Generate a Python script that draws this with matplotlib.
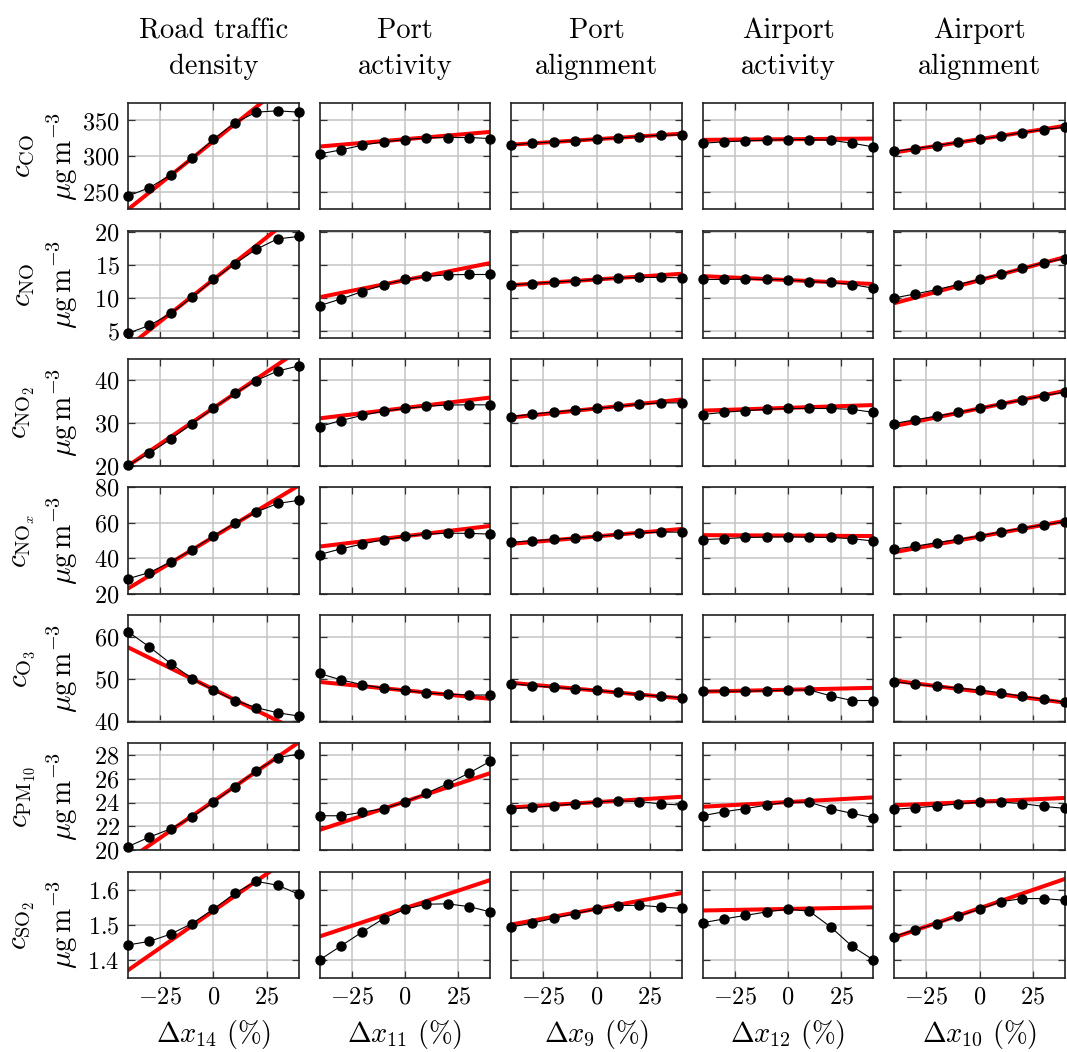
import numpy as np
import matplotlib
matplotlib.use("Agg")
import matplotlib.pyplot as plt

plt.rcParams['font.family'] = 'serif'
plt.rcParams['font.serif'] = ['cmr10', 'DejaVu Serif']
plt.rcParams['mathtext.fontset'] = 'cm'
plt.rcParams['axes.formatter.use_mathtext'] = True
plt.rcParams['axes.unicode_minus'] = True

# perturbation of each input (%)
dx = [-40, -30, -20, -10, 0, 10, 20, 30, 40]
fit_x = [-40, 40]

col_titles = ["Road traffic\ndensity", "Port\nactivity", "Port\nalignment",
              "Airport\nactivity", "Airport\nalignment"]
x_labels = [r"$\Delta x_{14}\ (\%)$", r"$\Delta x_{11}\ (\%)$", r"$\Delta x_{9}\ (\%)$",
            r"$\Delta x_{12}\ (\%)$", r"$\Delta x_{10}\ (\%)$"]
species = [r"$c_{\mathrm{CO}}$", r"$c_{\mathrm{NO}}$", r"$c_{\mathrm{NO}_2}$",
           r"$c_{\mathrm{NO}_x}$", r"$c_{\mathrm{O}_3}$", r"$c_{\mathrm{PM}_{10}}$",
           r"$c_{\mathrm{SO}_2}$"]
unit = r"$\mu\mathrm{g\,m}^{-3}$"

# model response, one list per column (road, port act., port align., airport act., airport align.)
co = [[243.9, 255.6, 273.5, 297.0, 323.7, 346.7, 361.7, 363.6, 361.7],
      [303.0, 308.7, 315.3, 320.0, 323.2, 325.6, 326.1, 326.1, 324.6],
      [315.7, 318.1, 320.0, 321.8, 323.7, 325.6, 327.5, 329.3, 329.8],
      [318.1, 320.0, 321.4, 322.3, 323.2, 323.2, 322.3, 318.1, 312.9],
      [306.8, 310.6, 314.8, 319.5, 323.7, 327.9, 333.1, 337.3, 340.6]]
no = [[4.6, 5.78, 7.62, 10.08, 12.79, 15.19, 17.39, 18.98, 19.34],
      [8.8, 9.82, 10.95, 11.97, 12.79, 13.25, 13.5, 13.55, 13.55],
      [11.97, 12.17, 12.38, 12.58, 12.79, 13.0, 13.1, 13.1, 13.04],
      [12.79, 12.79, 12.84, 12.79, 12.74, 12.48, 12.33, 12.02, 11.46],
      [9.97, 10.59, 11.25, 12.02, 12.79, 13.61, 14.48, 15.35, 15.96]]
no2 = [[20.1, 22.9, 26.2, 29.8, 33.4, 36.8, 39.8, 42.0, 43.2],
       [29.1, 30.5, 31.7, 32.7, 33.3, 33.8, 34.1, 34.15, 34.15],
       [31.4, 32.0, 32.5, 32.9, 33.3, 33.8, 34.3, 34.6, 34.6],
       [31.9, 32.4, 32.8, 33.1, 33.3, 33.3, 33.3, 33.1, 32.4],
       [29.8, 30.7, 31.5, 32.4, 33.3, 34.4, 35.3, 36.3, 37.1]]
nox = [[28.5, 32.0, 37.9, 44.9, 52.5, 59.7, 66.0, 70.8, 72.6],
       [42.1, 45.3, 48.0, 50.5, 52.3, 53.6, 54.1, 54.0, 53.6],
       [49.0, 49.9, 50.6, 51.4, 52.3, 53.4, 54.3, 54.7, 54.7],
       [50.5, 51.0, 51.7, 51.9, 52.1, 51.9, 51.7, 51.0, 49.7],
       [45.1, 46.8, 48.8, 50.6, 52.5, 54.9, 56.9, 58.8, 60.6]]
o3 = [[61.2, 57.6, 53.65, 50.1, 47.3, 44.9, 43.2, 42.0, 41.2],
      [51.3, 49.8, 48.65, 47.8, 47.3, 46.7, 46.4, 46.2, 46.2],
      [48.9, 48.4, 48.0, 47.7, 47.3, 46.8, 46.3, 45.9, 45.6],
      [47.2, 47.1, 47.1, 47.2, 47.4, 47.4, 46.0, 44.9, 44.9],
      [49.4, 48.7, 48.3, 47.8, 47.4, 46.7, 45.9, 45.2, 44.5]]
pm10 = [[20.3, 21.1, 21.8, 22.8, 24.06, 25.35, 26.7, 27.8, 28.1],
        [22.9, 22.9, 23.2, 23.5, 24.06, 24.8, 25.6, 26.5, 27.5],
        [23.5, 23.6, 23.75, 23.9, 24.06, 24.17, 24.1, 23.9, 23.8],
        [22.9, 23.24, 23.5, 23.8, 24.06, 24.03, 23.5, 23.1, 22.74],
        [23.44, 23.58, 23.72, 23.9, 24.06, 24.06, 23.92, 23.69, 23.52]]
so2 = [[1.443, 1.453, 1.474, 1.504, 1.545, 1.590, 1.624, 1.613, 1.587],
       [1.400, 1.440, 1.480, 1.518, 1.545, 1.559, 1.560, 1.552, 1.537],
       [1.494, 1.505, 1.519, 1.532, 1.545, 1.555, 1.556, 1.551, 1.547],
       [1.506, 1.517, 1.527, 1.537, 1.545, 1.539, 1.494, 1.439, 1.400],
       [1.467, 1.486, 1.504, 1.525, 1.545, 1.566, 1.575, 1.575, 1.570]]

# linear (tangent) approximation: values at dx = -40 and +40
co_fit = [[225, 417], [313.4, 334.0], [316.0, 331.5], [322.8, 324.6], [305.0, 342.5]]
no_fit = [[2.5, 23.1], [10.08, 15.3], [11.92, 13.66], [13.3, 12.1], [9.16, 16.2]]
no2_fit = [[20.0, 46.85], [31.0, 35.85], [31.2, 35.4], [32.8, 34.1], [29.2, 37.4]]
nox_fit = [[23.0, 81.0], [46.6, 58.2], [48.1, 56.5], [53.0, 52.5], [43.4, 61.0]]
o3_fit = [[57.5, 37.6], [49.3, 45.3], [49.1, 45.4], [47.0, 47.9], [49.6, 44.4]]
pm10_fit = [[19.17, 29.1], [21.7, 26.5], [23.6, 24.5], [23.66, 24.45], [23.78, 24.4]]
so2_fit = [[1.371, 1.709], [1.467, 1.628], [1.501, 1.591], [1.541, 1.550], [1.464, 1.631]]

rows = [co, no, no2, nox, o3, pm10, so2]
fits = [co_fit, no_fit, no2_fit, nox_fit, o3_fit, pm10_fit, so2_fit]
ylims = [(225, 375), (3.93, 20.2), (20, 44.8), (20, 80), (39.8, 65.1), (20, 29), (1.348, 1.652)]
yticks = [[250, 300, 350], [5, 10, 15, 20], [20, 30, 40], [20, 40, 60, 80],
          [40, 50, 60], [20, 22, 24, 26, 28], [1.4, 1.5, 1.6]]

fig, axes = plt.subplots(7, 5, figsize=(10.67, 10.52), dpi=100, sharex=True, sharey='row')
fig.subplots_adjust(left=128/1067, right=1065/1067, top=1-102.7/1052, bottom=1-978.3/1052,
                    wspace=0.12, hspace=0.2)

for i in range(7):
    for j in range(5):
        ax = axes[i, j]
        ax.plot(fit_x, fits[i][j], color='#ff0000', lw=2.9, zorder=2)
        ax.plot(dx, rows[i][j], color='black', lw=0.8, marker='o', ms=6.5, zorder=3, clip_on=False)
        ax.set_xlim(-40, 40)
        ax.set_ylim(*ylims[i])
        ax.set_xticks([-25, 0, 25])
        ax.set_yticks(yticks[i])
        ax.grid(True, color='#c4c4c4', lw=1.1)
        ax.set_axisbelow(True)
        ax.tick_params(direction='in', length=5, width=0.9, color='#333333',
                       top=True, right=True, labelsize=17.5, pad=6)
        for s in ax.spines.values():
            s.set_linewidth(1.2)
            s.set_color('#222222')
        if i == 0:
            ax.set_title(col_titles[j], fontsize=20.5, pad=21, linespacing=1.45)
        if i == 6:
            ax.set_xlabel(x_labels[j], fontsize=20.5, labelpad=7)
    axes[i, 0].set_ylabel(species[i] + "\n" + unit, fontsize=21, linespacing=1.3)
    axes[i, 0].yaxis.set_label_coords(-0.28, 0.5)

plt.savefig("out.png", dpi=100)
